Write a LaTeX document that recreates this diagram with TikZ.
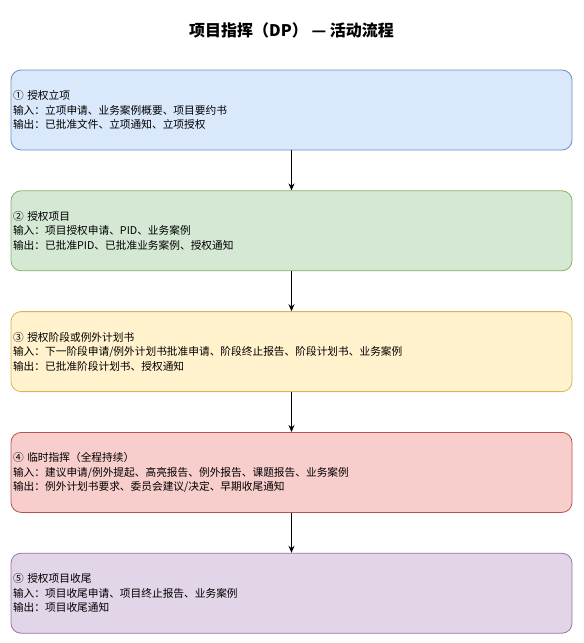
\documentclass[tikz,border=0pt]{standalone}
\usepackage{fontspec}
\setmainfont{Noto Sans CJK SC}
\usetikzlibrary{positioning, arrows.meta}

\definecolor{blueFill}{HTML}{DAE8FC}\definecolor{blueLine}{HTML}{6C8EBF}
\definecolor{greenFill}{HTML}{D5E8D4}\definecolor{greenLine}{HTML}{82B366}
\definecolor{yellowFill}{HTML}{FFF2CC}\definecolor{yellowLine}{HTML}{D6B656}
\definecolor{redFill}{HTML}{F8CECC}\definecolor{redLine}{HTML}{B85450}
\definecolor{purpleFill}{HTML}{E1D5E7}\definecolor{purpleLine}{HTML}{9673A6}

\begin{document}
\begin{tikzpicture}[
        %Styles
        Activity/.style={
            draw, line width=0.8pt,
            rounded corners=10pt,
            minimum width=561pt, minimum height=80pt,
            text width=557pt, inner xsep=2pt,
            align=left,
            font=\fontsize{10.7pt}{14.5pt}\selectfont,
        },
        Flow/.style={-{Stealth[length=7pt,width=6pt]}, line width=0.9pt},
        Title/.style={font=\fontsize{16pt}{19pt}\selectfont\bfseries},
    ]
\useasboundingbox (0,0) rectangle (584pt,-643pt);

%title
\node[Title] (title) at (291.5pt,-30pt) {项目指挥（DP） — 活动流程};

%activities
\node[Activity, fill=blueFill, draw=blueLine] (a1) at (291.5pt,-110pt)
  {① 授权立项\\输入：立项申请、业务案例概要、项目要约书\\输出：已批准文件、立项通知、立项授权};
\node[Activity, fill=greenFill, draw=greenLine, below=40pt of a1] (a2)
  {② 授权项目\\输入：项目授权申请、PID、业务案例\\输出：已批准PID、已批准业务案例、授权通知};
\node[Activity, fill=yellowFill, draw=yellowLine, below=40pt of a2] (a3)
  {③ 授权阶段或例外计划书\\输入：下一阶段申请/例外计划书批准申请、阶段终止报告、阶段计划书、业务案例\\输出：已批准阶段计划书、授权通知};
\node[Activity, fill=redFill, draw=redLine, below=40pt of a3] (a4)
  {④ 临时指挥（全程持续）\\输入：建议申请/例外提起、高亮报告、例外报告、课题报告、业务案例\\输出：例外计划书要求、委员会建议/决定、早期收尾通知};
\node[Activity, fill=purpleFill, draw=purpleLine, below=40pt of a4] (a5)
  {⑤ 授权项目收尾\\输入：项目收尾申请、项目终止报告、业务案例\\输出：项目收尾通知};

%arrows
\foreach \x/\y in {a1/a2,a2/a3,a3/a4,a4/a5}
  \draw[Flow] (\x.south) -- (\y.north);

\end{tikzpicture}
\end{document}
